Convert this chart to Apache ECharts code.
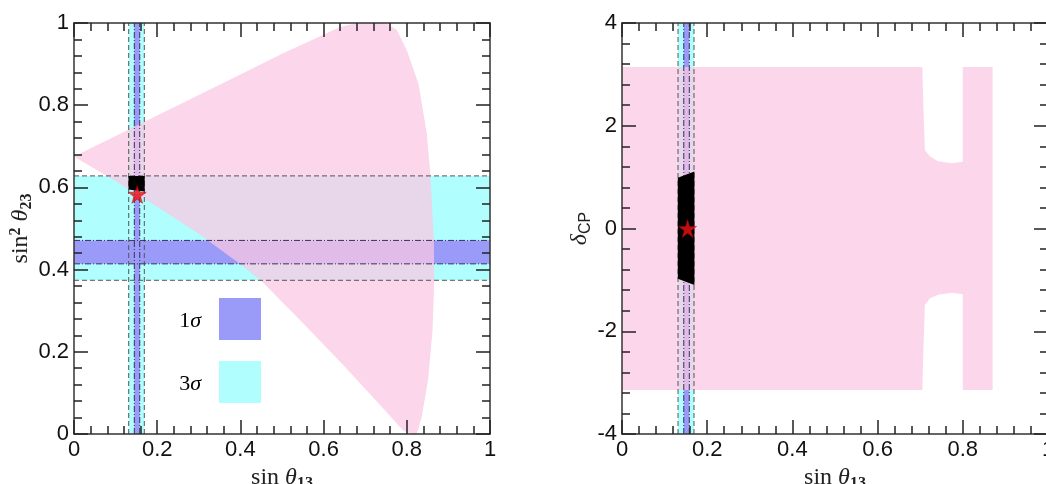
<!DOCTYPE html>
<html><head><meta charset="utf-8">
<script src="https://cdn.jsdelivr.net/npm/echarts@6/dist/echarts.min.js"></script>
<style>html,body{margin:0;padding:0;background:#fff}#c{width:1046px;height:484px}</style>
</head><body><div id="c"></div>
<script>
// ---- data ----
const PI = Math.PI;
const band3X = [0.1315, 0.169];   // 3σ range of sinθ13
const band1X = [0.145, 0.158];    // 1σ range of sinθ13
const band3Y = [0.374, 0.628];    // 3σ range of sin²θ23
const band1Y = [0.414, 0.471];    // 1σ range of sin²θ23
const deltaRange = [-4, 4];

// allowed region, left panel (sinθ13, sin²θ23)
const leftRegion = [
  [0,0.675],[0.1,0.725],[0.2,0.775],[0.3,0.825],[0.4,0.875],[0.5,0.925],[0.58,0.962],
  [0.64,0.99],[0.68,1.0],[0.75,1.0],[0.776,0.983],[0.80,0.934],[0.828,0.853],[0.848,0.732],
  [0.857,0.628],[0.865,0.47],[0.866,0.373],[0.862,0.253],[0.851,0.131],[0.836,0.042],
  [0.824,0.0],[0.81,0.0],[0.79,0.01],[0.75,0.055],[0.65,0.165],[0.55,0.27],[0.45,0.373],
  [0.4,0.413],[0.3,0.487],[0.2,0.553],[0.1,0.615]
];
// allowed region, right panel (sinθ13, δCP)
const rightRegion = [
  [0,-PI],[0,PI],[0.705,PI],[0.707,2.5],[0.711,1.53],[0.723,1.40],[0.742,1.31],[0.774,1.27],
  [0.80,1.30],[0.80,PI],[0.87,PI],[0.87,-PI],[0.80,-PI],[0.80,-1.28],[0.774,-1.25],
  [0.742,-1.29],[0.723,-1.36],[0.711,-1.49],[0.707,-2.5],[0.705,-PI]
];
// region compatible with data (black)
const leftBest = [[0.131,0.595],[0.131,0.628],[0.170,0.628],[0.170,0.590]];
const rightBest = [[0.131,-0.98],[0.131,0.99],[0.170,1.11],[0.170,-1.10]];
// best fit points
const leftStar = [0.152, 0.583];
const rightStar = [0.154, 0.0];

// ---- colours ----
const C3 = '#b0fefe', C1 = '#9a9af8', PINK = 'rgba(251,200,226,0.74)';
const DASH = [5,3], DASHDOT = [6,2,1,2];

function poly(pts, gi, fill, z) {
  return {type:'custom', coordinateSystem:'cartesian2d', xAxisIndex:gi, yAxisIndex:gi, clip:true, z:z, silent:true,
    data:[pts[0]],
    renderItem:(p, api)=>({type:'polygon', shape:{points: pts.map(q=>api.coord(q))}, style:{fill:fill, stroke:null}})};
}
function rect(x0,x1,y0,y1,gi,fill,z){ return poly([[x0,y0],[x1,y0],[x1,y1],[x0,y1]],gi,fill,z); }
function seg(a,b,gi,dash,color,z){
  return {type:'custom', coordinateSystem:'cartesian2d', xAxisIndex:gi, yAxisIndex:gi, clip:true, z:z, silent:true,
    data:[a],
    renderItem:(p, api)=>({type:'line', shape:{x1:api.coord(a)[0],y1:api.coord(a)[1],x2:api.coord(b)[0],y2:api.coord(b)[1]},
      style:{stroke:color, lineWidth:1, lineDash:dash, fill:null}})};
}
const starPath = 'path://M50,0 L61,35 L98,35 L68,57 L79,91 L50,70 L21,91 L32,57 L2,35 L39,35 Z';

const series = [];
// left panel
series.push(rect(band3X[0],band3X[1],0,1,0,C3,1));
series.push(rect(0,1,band3Y[0],band3Y[1],0,C3,1));
series.push(rect(band1X[0],band1X[1],0,1,0,C1,1.1));
series.push(rect(0,1,band1Y[0],band1Y[1],0,C1,1.1));
series.push(poly(leftRegion,0,PINK,2));
band3X.forEach(v=>series.push(seg([v,0],[v,1],0,DASH,'#555',3)));
band1X.forEach(v=>series.push(seg([v,0],[v,1],0,DASHDOT,'#3a2f5a',3)));
band3Y.forEach(v=>series.push(seg([0,v],[1,v],0,DASH,'#555',3)));
band1Y.forEach(v=>series.push(seg([0,v],[1,v],0,DASHDOT,'#3a2f5a',3)));
series.push(poly(leftBest,0,'#000',4));
series.push({type:'scatter', xAxisIndex:0, yAxisIndex:0, z:5, silent:true, data:[leftStar], symbol:starPath, symbolSize:18,
  itemStyle:{color:'#ee1111', borderColor:'#a00', borderWidth:0.5}});
// right panel
series.push(rect(band3X[0],band3X[1],deltaRange[0],deltaRange[1],1,C3,1));
series.push(rect(band1X[0],band1X[1],deltaRange[0],deltaRange[1],1,C1,1.1));
series.push(poly(rightRegion,1,PINK,2));
band3X.forEach(v=>series.push(seg([v,deltaRange[0]],[v,deltaRange[1]],1,DASH,'#555',3)));
band1X.forEach(v=>series.push(seg([v,deltaRange[0]],[v,deltaRange[1]],1,DASHDOT,'#3a2f5a',3)));
series.push(poly(rightBest,1,'#000',4));
series.push({type:'scatter', xAxisIndex:1, yAxisIndex:1, z:5, silent:true, data:[rightStar], symbol:starPath, symbolSize:18,
  itemStyle:{color:'#ee1111', borderColor:'#a00', borderWidth:0.5}});

const serif = 'Liberation Serif, DejaVu Serif, serif';
const sans = 'Liberation Sans, Arial, sans-serif';
const rich = {
  s:{fontFamily:serif, fontSize:24, color:'#222', lineHeight:27},
  t:{fontFamily:serif, fontSize:24, fontStyle:'italic', color:'#222', lineHeight:27},
  b:{fontFamily:serif, fontSize:16, fontWeight:'bold', color:'#222', verticalAlign:'bottom', lineHeight:16},
  p:{fontFamily:serif, fontSize:16, fontWeight:'bold', color:'#222', verticalAlign:'top', lineHeight:16},
  c:{fontFamily:sans, fontSize:16, color:'#222', verticalAlign:'bottom', lineHeight:16}
};

function axisCommon(showLabel){
  return {
    axisLine:{show:true, onZero:false, lineStyle:{color:'#333', width:1.5}},
    axisTick:{show:true, inside:true, length:14, lineStyle:{color:'#222', width:1.5}},
    minorTick:{show:true, splitNumber:5, length:8, lineStyle:{color:'#222', width:1.5}},
    splitLine:{show:false},
    axisLabel:{show:showLabel, fontSize:22, color:'#111', fontFamily:sans, margin:5},
    z:10
  };
}
const xAxis = [
  Object.assign({type:'value', gridIndex:0, min:0, max:1, interval:0.2, position:'bottom',
    name:'{s|sin }{t|θ}{b|13}', nameLocation:'middle', nameGap:21, nameTextStyle:{rich}}, axisCommon(true)),
  Object.assign({type:'value', gridIndex:1, min:0, max:1, interval:0.2, position:'bottom',
    name:'{s|sin }{t|θ}{b|13}', nameLocation:'middle', nameGap:21, nameTextStyle:{rich}}, axisCommon(true)),
  Object.assign({type:'value', gridIndex:0, min:0, max:1, interval:0.2, position:'top'}, axisCommon(false)),
  Object.assign({type:'value', gridIndex:1, min:0, max:1, interval:0.2, position:'top'}, axisCommon(false))
];
const yAxis = [
  Object.assign({type:'value', gridIndex:0, min:0, max:1, interval:0.2, position:'left',
    name:'{s|sin}{p|2}{s| }{t|θ}{b|23}', nameLocation:'middle', nameGap:35, nameTextStyle:{rich}}, axisCommon(true)),
  Object.assign({type:'value', gridIndex:1, min:deltaRange[0], max:deltaRange[1], interval:2, position:'left',
    name:'{t|δ}{c|CP}', nameLocation:'middle', nameGap:26, nameTextStyle:{rich}}, axisCommon(true)),
  Object.assign({type:'value', gridIndex:0, min:0, max:1, interval:0.2, position:'right'}, axisCommon(false)),
  Object.assign({type:'value', gridIndex:1, min:deltaRange[0], max:deltaRange[1], interval:2, position:'right'}, axisCommon(false))
];

const chart = echarts.init(document.getElementById('c'), null, {renderer:'canvas'});
chart.setOption({
  animation:false,
  backgroundColor:'#fff',
  grid:[
    {left:74, top:23, width:416, height:411, containLabel:false, outerBoundsMode:'none'},
    {left:622, top:23, width:426, height:411, containLabel:false, outerBoundsMode:'none'}
  ],
  xAxis, yAxis, series,
  graphic:[
    {type:'rect', shape:{x:219, y:298, width:42, height:42}, style:{fill:C1}, z:20},
    {type:'rect', shape:{x:219, y:361, width:42, height:42}, style:{fill:C3}, z:20},
    {type:'text', x:201, y:321, style:{text:'{s|1}{t|σ}', rich:{s:{fontFamily:serif,fontSize:22,color:'#222'},t:{fontFamily:serif,fontSize:22,fontStyle:'italic',color:'#222'}}, align:'right', verticalAlign:'middle'}, z:20},
    {type:'text', x:201, y:384, style:{text:'{s|3}{t|σ}', rich:{s:{fontFamily:serif,fontSize:22,color:'#222'},t:{fontFamily:serif,fontSize:22,fontStyle:'italic',color:'#222'}}, align:'right', verticalAlign:'middle'}, z:20}
  ]
});
</script></body></html>
